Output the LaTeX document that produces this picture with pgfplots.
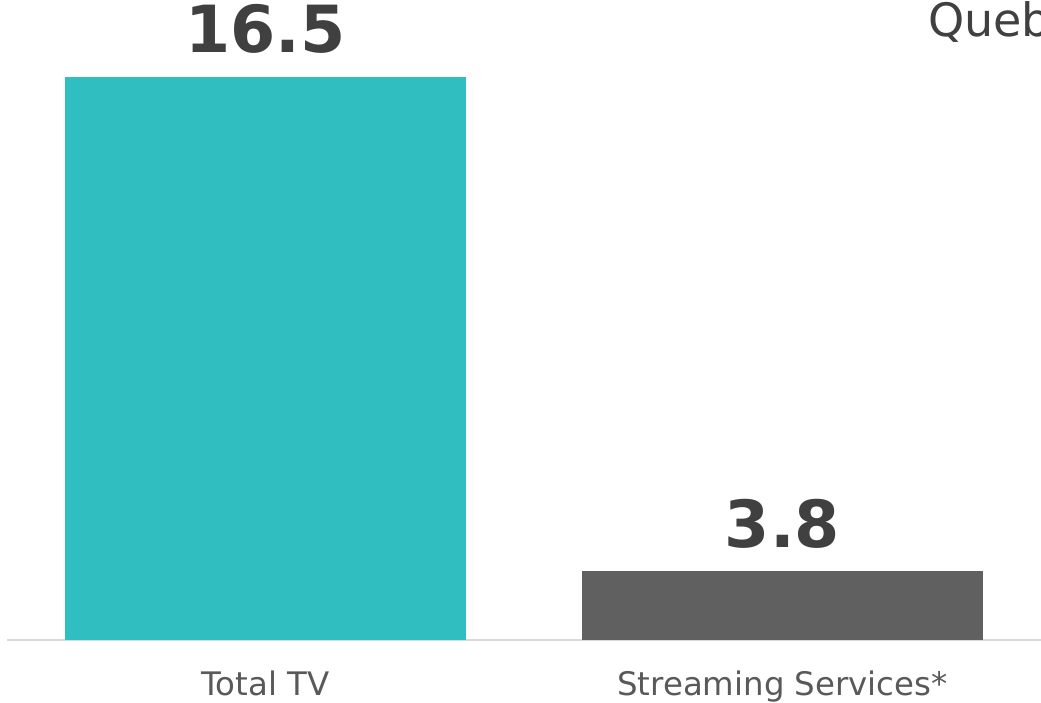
\documentclass[border=0pt]{standalone}
\usepackage{pgfplots}
\pgfplotsset{compat=1.18}
\usepackage{fontspec}
\setmainfont{DejaVu Sans}
\definecolor{tealbar}{HTML}{30BEC0}
\definecolor{graybar}{HTML}{606060}
\definecolor{numtext}{HTML}{404040}
\definecolor{labtext}{HTML}{595959}
\definecolor{basegray}{HTML}{D9D9D9}
\begin{document}
\begin{tikzpicture}
\useasboundingbox (0pt,0pt) rectangle (1041pt,702pt);
\begin{axis}[
  at={(7pt,62pt)}, anchor=south west,
  scale only axis,
  width=1034pt, height=640pt,
  xmin=-0.5, xmax=1.5,
  ymin=2.03, ymax=18.478,
  axis x line*=bottom,
  axis y line=none,
  x axis line style={draw=basegray, line width=1.5pt, -},
  xtick={0,1},
  xticklabels={Total TV, Streaming Services*},
  major tick length=0pt,
  xticklabel style={anchor=base, yshift=-55pt, text=labtext,
    font=\fontsize{32.4}{38}\selectfont},
  ybar, bar width=401pt, bar shift=0pt,
  /pgf/number format/assume math mode=true,
  nodes near coords={\pgfmathprintnumber[fixed,precision=1,fixed zerofill]{\pgfplotspointmeta}},
  every node near coord/.append style={anchor=base, inner sep=0pt, yshift=24pt,
    text=numtext, font=\fontsize{65}{76}\selectfont\bfseries},
]
\addplot[fill=tealbar, draw=none] coordinates {(0,16.5)};
\addplot[fill=graybar, draw=none] coordinates {(1,3.8)};
\end{axis}
\node[anchor=base west, inner sep=0pt, text=numtext, font=\fontsize{46}{54}\selectfont] at (928pt,665pt) {Queb};
\end{tikzpicture}
\end{document}
